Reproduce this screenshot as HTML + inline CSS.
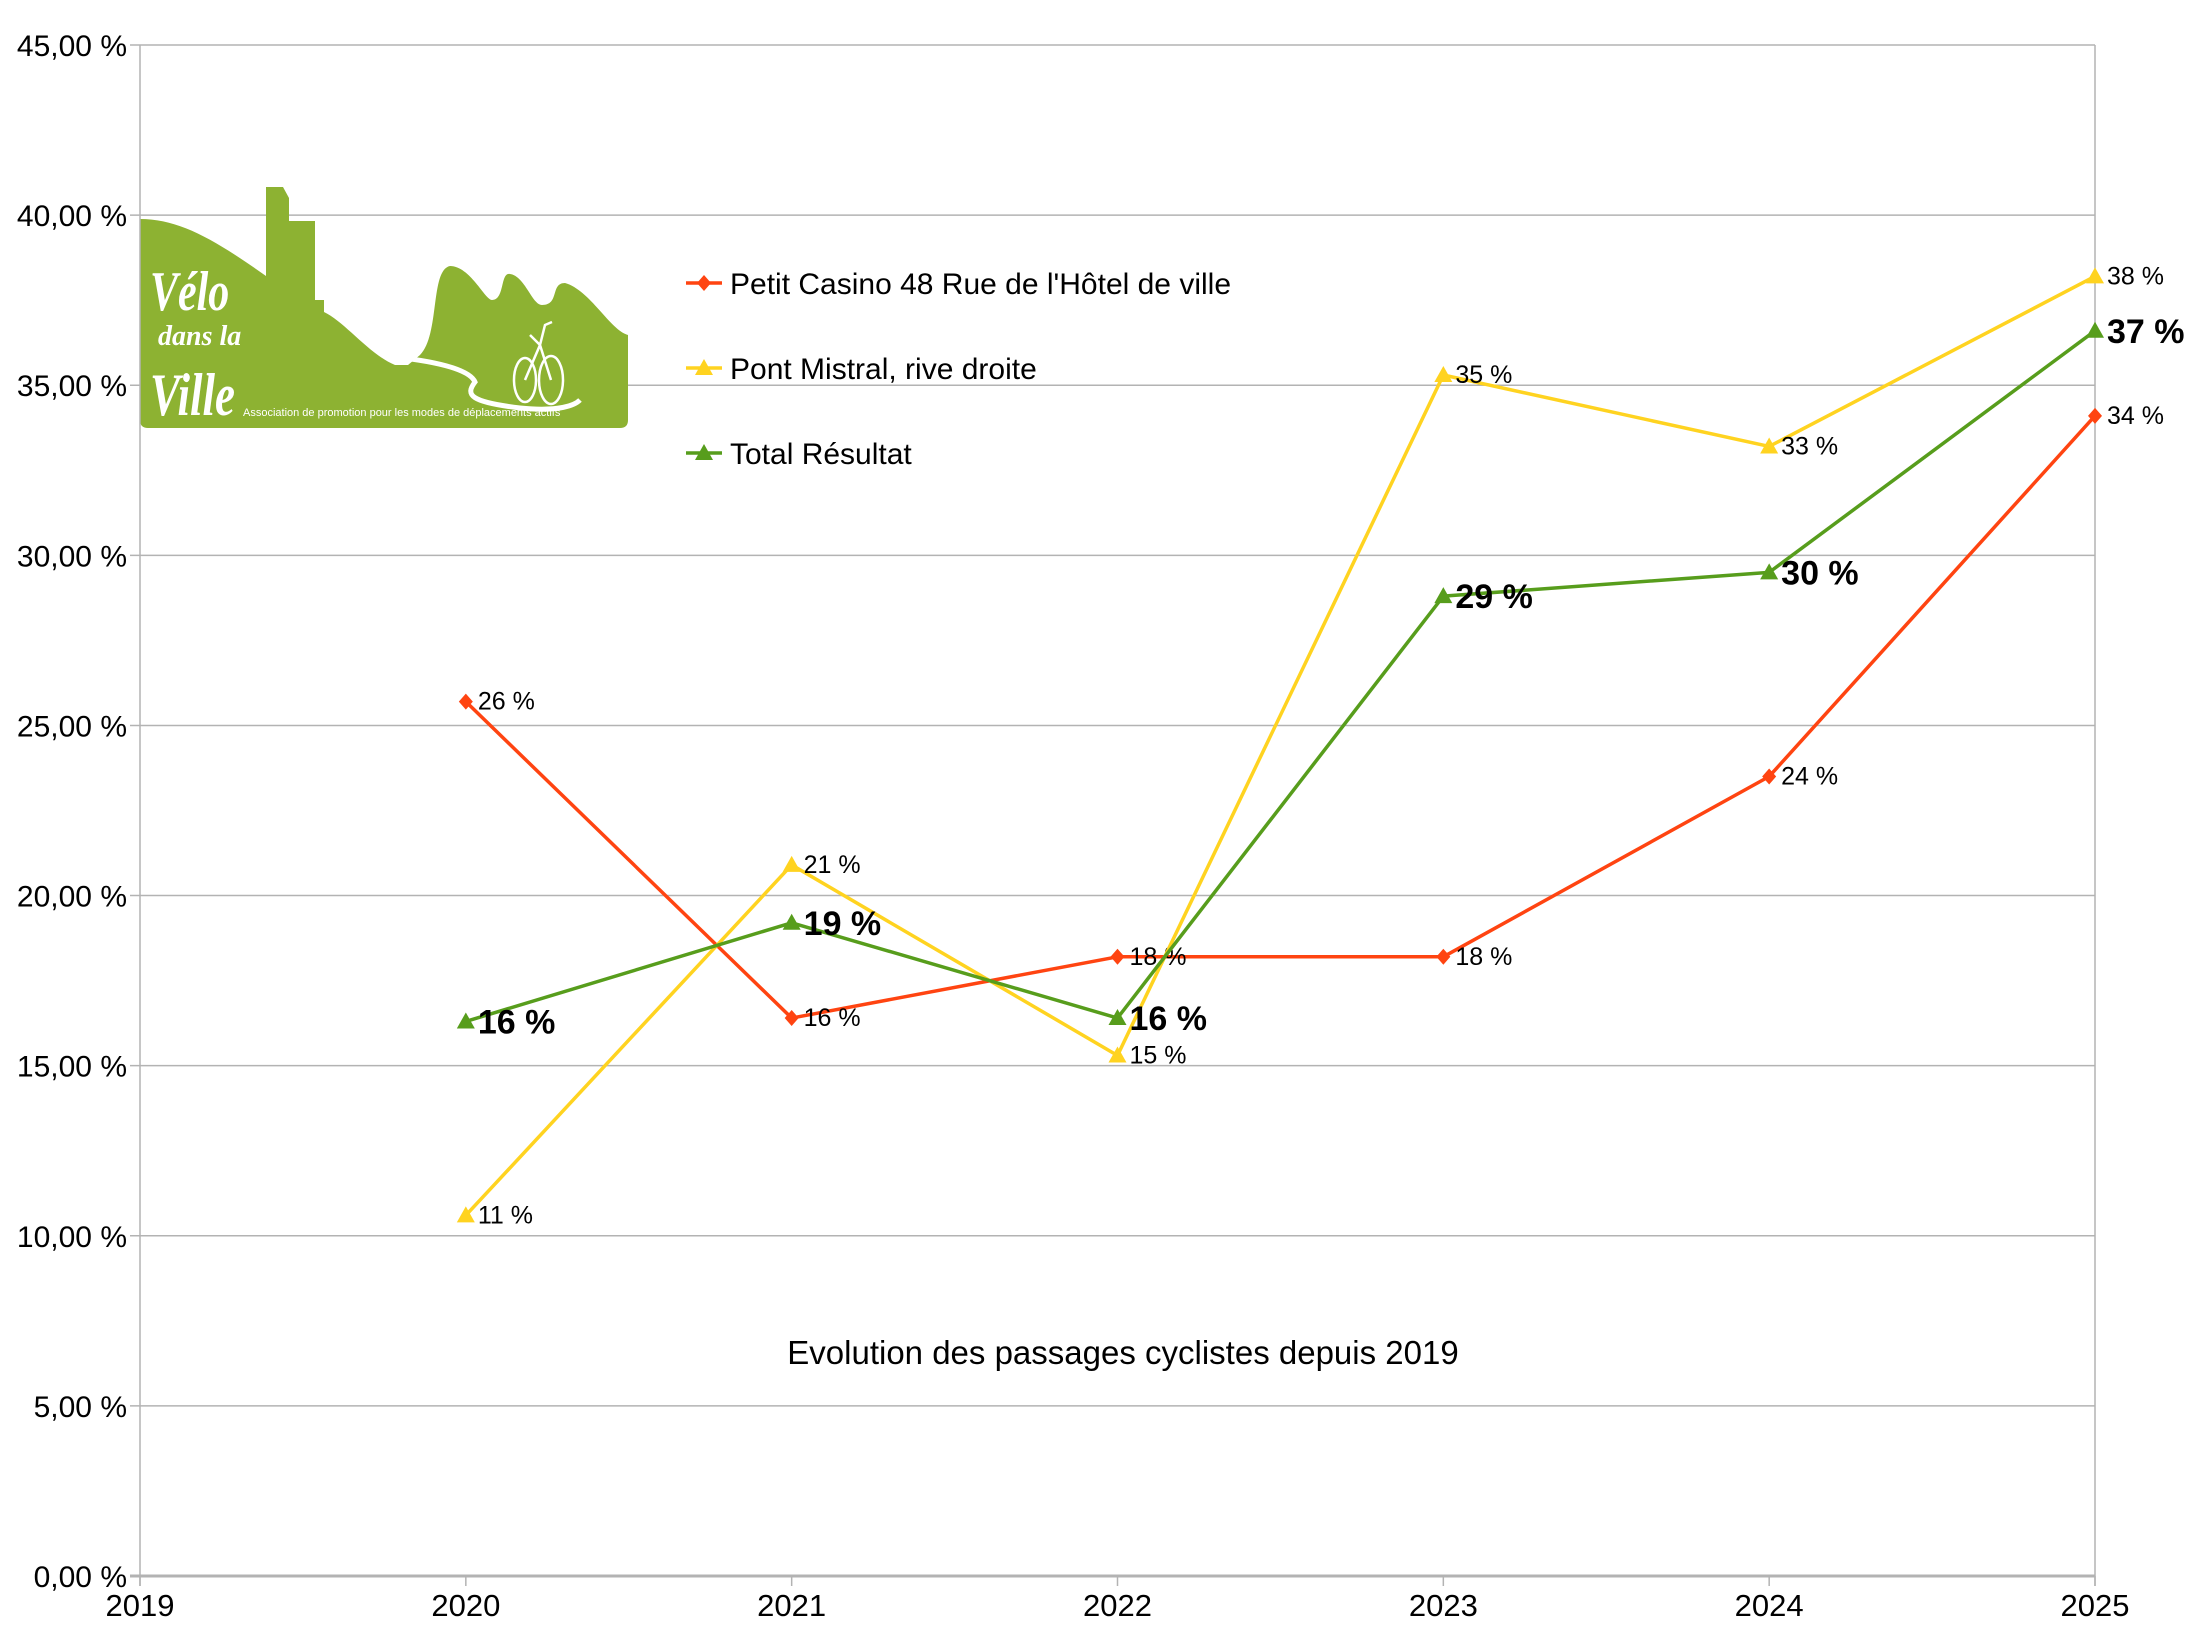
<!DOCTYPE html>
<html><head><meta charset="utf-8"><style>
html,body{margin:0;padding:0;background:#fff;}
svg{display:block;font-family:"Liberation Sans",sans-serif;}
</style></head><body>
<svg id="chart" width="2194" height="1647" viewBox="0 0 2194 1647">
<g id="grid"></g>
<g id="logo">
 <path fill="#8db232" d="M140,219 C180,219 215,240 266,276 L266,187 L283,187 L289,198 L289,221 L315,221 L315,300 L324,300 L324,312 C345,322 370,355 395,365 L408,365 L420,355 C440,335 430,270 450,266 C470,266 485,300 492,300 C505,300 500,272 510,274 C525,276 532,305 542,305 C560,305 550,283 565,283 C590,290 610,330 628,335 L628,420 Q628,428 620,428 L148,428 Q140,428 140,420 Z"/>
 <path fill="none" stroke="#fff" stroke-width="5" d="M395,357 C440,362 470,370 475,382 C465,395 470,402 520,408 C560,412 575,405 580,400"/>
 <g fill="none" stroke="#fff" stroke-width="2.5">
  <ellipse cx="525" cy="380" rx="11" ry="22"/><ellipse cx="551" cy="380" rx="12" ry="24"/>
  <path d="M525,380 L540,345 L551,380 M540,345 L530,335 M540,345 L545,325 L552,322"/>
 </g>
 <text x="150" y="310" fill="#fff" font-size="56" font-style="italic" font-weight="bold" font-family="Liberation Serif,serif" transform="scale(0.75,1) translate(50,0)">Vélo</text>
 <text x="158" y="345" fill="#fff" font-size="28" font-style="italic" font-weight="bold" font-family="Liberation Serif,serif">dans la</text>
 <text x="150" y="415" fill="#fff" font-size="60" font-style="italic" font-weight="bold" font-family="Liberation Serif,serif" transform="scale(0.75,1) translate(50,0)">Ville</text>
 <text x="243" y="416" fill="#fff" font-size="11">Association de promotion pour les modes de déplacements actifs</text>
</g>
<g id="axes"></g>
<g id="series"></g>
<g id="legend"></g>
<text x="1123" y="1364" font-size="33" text-anchor="middle" fill="#000">Evolution des passages cyclistes depuis 2019</text>
</svg>
<script>
const years = ["2019","2020","2021","2022","2023","2024","2025"];
const yTicks = [0,5,10,15,20,25,30,35,40,45];
const yTickLabels = ["0,00 %","5,00 %","10,00 %","15,00 %","20,00 %","25,00 %","30,00 %","35,00 %","40,00 %","45,00 %"];
const seriesNames = ["Petit Casino 48 Rue de l'Hôtel de ville","Pont Mistral, rive droite","Total Résultat"];
const casino = [25.7,16.4,18.2,18.2,23.5,34.1];
const mistral = [10.6,20.9,15.3,35.3,33.2,38.2];
const total = [16.3,19.2,16.4,28.8,29.5,36.6];
const casinoLabels = ["26 %","16 %","18 %","18 %","24 %","34 %"];
const mistralLabels = ["11 %","21 %","15 %","35 %","33 %","38 %"];
const totalLabels = ["16 %","19 %","16 %","29 %","30 %","37 %"];
const pointYears = [1,2,3,4,5,6];

const NS="http://www.w3.org/2000/svg";
const X0=140,X1=2095,Y0=1576,Y1=45;
function xs(i){return X0+(X1-X0)*i/6;}
function ys(v){return Y0-(Y0-Y1)*v/45;}
function mk(tag,attrs,parent){const e=document.createElementNS(NS,tag);for(const k in attrs)e.setAttribute(k,attrs[k]);parent.appendChild(e);return e;}
const grid=document.getElementById('grid'),axes=document.getElementById('axes'),ser=document.getElementById('series'),leg=document.getElementById('legend');
yTicks.forEach((t,i)=>{
  const l=mk('line',{x1:X0-10,x2:X1,y1:ys(t),y2:ys(t),stroke:'#b3b3b3','stroke-width':t===0?3:1.5},grid);
  
  
  const tx=mk('text',{x:127,y:ys(t)+11,'font-size':30,'text-anchor':'end',fill:'#000'},axes);
  tx.textContent=yTickLabels[i];
  
  
});
mk('line',{x1:X0,x2:X0,y1:Y1,y2:Y0+10,stroke:'#b3b3b3','stroke-width':1.5},axes);
mk('line',{x1:X1,x2:X1,y1:Y1,y2:Y0+10,stroke:'#b3b3b3','stroke-width':1.5},axes);
years.forEach((y,i)=>{
  mk('line',{x1:xs(i),x2:xs(i),y1:Y0,y2:Y0+10,stroke:'#b3b3b3','stroke-width':1.5},axes);
  const tx=mk('text',{x:xs(i),y:1616,'font-size':31,'text-anchor':'middle',fill:'#000'},axes);
  tx.textContent=y;
  
  
});
function marker(shape,x,y,color,parent){
  if(shape==='diamond') return mk('path',{d:`M${x},${y-8}L${x+7},${y}L${x},${y+8}L${x-7},${y}Z`,fill:color},parent);
  return mk('path',{d:`M${x},${y-9}L${x+9},${y+7}L${x-9},${y+7}Z`,fill:color},parent);
}
const defs=[
 {vals:casino,labels:casinoLabels,color:'#ff4411',shape:'diamond',bold:false,name:'casino'},
 {vals:mistral,labels:mistralLabels,color:'#ffd320',shape:'tri',bold:false,name:'mistral'},
 {vals:total,labels:totalLabels,color:'#579d1c',shape:'tri',bold:true,name:'total'}
];
defs.forEach(s=>{
  const g=mk('g',{},ser);
  
  
  const pts=s.vals.map((v,i)=>xs(pointYears[i])+','+ys(v)).join(' ');
  const pl=mk('polyline',{points:pts,fill:'none',stroke:s.color,'stroke-width':3.5,'stroke-linejoin':'round'},g);
  
  
  s.vals.forEach((v,i)=>{
    const x=xs(pointYears[i]),y=ys(v);
    const m=marker(s.shape,x,y,s.color,g);
    
    
    const t=mk('text',{x:x+12,y:y+(s.bold?12:8),'font-size':s.bold?34:25,'font-weight':s.bold?'bold':'normal',fill:'#000'},g);
    t.textContent=s.labels[i];
    
    
  });
});
const legY=[283,368,453];
defs.forEach((s,i)=>{
  const g=mk('g',{},leg);
  
  
  mk('line',{x1:686,x2:722,y1:legY[i],y2:legY[i],stroke:s.color,'stroke-width':3.5},g);
  marker(s.shape,704,legY[i],s.color,g);
  const t=mk('text',{x:730,y:legY[i]+11,'font-size':30,fill:'#000'},g);
  t.textContent=seriesNames[i];
  
  
});
</script>
</body></html>
